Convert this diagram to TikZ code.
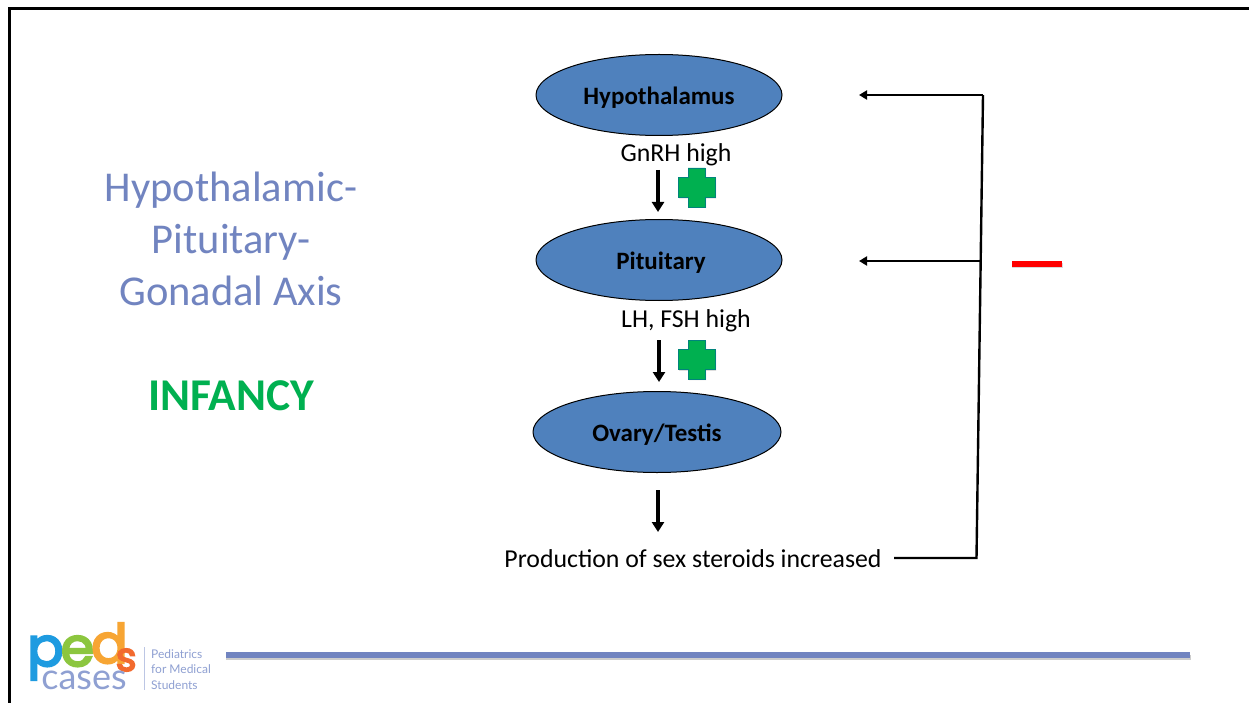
\documentclass[tikz,border=0pt]{standalone}
\usepackage{fontspec}
\setmainfont{Carlito}
\newfontfamily\logofont[FakeBold=4]{Poppins}
\newfontfamily\logolight{Lato}
\usetikzlibrary{shapes.geometric,arrows.meta}
\definecolor{ellblue}{HTML}{4F81BD}
\definecolor{titleblue}{HTML}{7184C0}
\definecolor{infgreen}{HTML}{00B050}
\definecolor{logoblue}{HTML}{1E9BE0}
\definecolor{logogreen}{HTML}{8CC63F}
\definecolor{logoorange}{HTML}{F7A533}
\definecolor{logored}{HTML}{F26A2E}
\definecolor{logotext}{HTML}{8FA0D2}
\newcommand\organtext[1]{\raisebox{-3pt}[\height][\depth]{#1}}
\tikzset{
  organ/.style={ellipse,draw=black,line width=1pt,fill=ellblue,minimum width=246pt,minimum height=81pt,inner sep=0pt,font=\fontsize{25}{25}\selectfont\bfseries,text=black},
  label/.style={font=\fontsize{25.8}{26}\selectfont,text=black,inner sep=0pt,anchor=base},
  titletext/.style={font=\fontsize{42.5}{43}\selectfont,text=titleblue,inner sep=0pt,anchor=base},
  flow/.style={line width=3.2pt,black,-{Triangle[length=10pt,width=12pt]}},
  fb/.style={line width=2.4pt,black},
  fbarrow/.style={fb,-{Triangle[length=8pt,width=9pt]}},
  logosub/.style={inner sep=0pt,anchor=base west,text=logotext,font=\logolight\fontsize{12}{12}\selectfont},
  plussign/.style={fill=infgreen,draw=infgreen!75!blue,line width=.4pt}
}
\begin{document}
\begin{tikzpicture}[x=1pt,y=-1pt]
\useasboundingbox (0,0) rectangle (1249,703);
\fill[white] (0,0) rectangle (1249,703);
% frame
\draw[line width=3pt,black] (9.5,703) -- (9.5,9) -- (1249,9);
% title
\node[titletext] (t1) at (231,202) {Hypothalamic-};
\node[titletext] (t2) at (231,254) {Pituitary-};
\node[titletext] (t3) at (231,305) {Gonadal Axis};
\node[inner sep=0pt,anchor=base,font=\fontsize{45.5}{46}\selectfont\bfseries,text=infgreen] (inf) at (231,410) {INFANCY};
% organs
\node[organ] (hyp) at (659,95) {\organtext{Hypothalamus}};
\node[organ] (pit) at (659,260) {\hspace*{4pt}\organtext{Pituitary}};
\node[organ,minimum width=248pt] (ova) at (657,432) {\organtext{Ovary/Testis}};
% labels
\node[label] (gnrh) at (676,162) {GnRH high};
\node[label] (lhfsh) at (686,327) {LH, FSH high};
\node[label] (prod) at (693,567) {Production of sex steroids increased};
% down arrows
\coordinate (a1s) at (658,170); \coordinate (a1e) at (658,212);
\coordinate (a2s) at (659,340); \coordinate (a2e) at (659,382);
\coordinate (a3s) at (658,490); \coordinate (a3e) at (658,532);
\draw[flow] (a1s) -- (a1e);
\draw[flow] (a2s) -- (a2e);
\draw[flow] (a3s) -- (a3e);
% plus signs
\foreach \cy in {187,359}{
  \fill[black!20] (689,\cy-18) -- ++(17,0) -- ++(0,9.5) -- ++(10,0) -- ++(0,20) -- ++(-10,0) -- ++(0,9.5) -- ++(-17,0) -- ++(0,-9.5) -- ++(-10,0) -- ++(0,-20) -- ++(10,0) -- cycle;
  \path[plussign] (688,\cy-19) -- ++(17,0) -- ++(0,9.5) -- ++(10,0) -- ++(0,20) -- ++(-10,0) -- ++(0,9.5) -- ++(-17,0) -- ++(0,-9.5) -- ++(-10,0) -- ++(0,-20) -- ++(10,0) -- cycle;
}
% feedback
\coordinate (fbs) at (894,558);
\coordinate (fbc) at (976.5,558);
\coordinate (fbt) at (983,95);
\coordinate (fbm) at (980,261);
\coordinate (fb1) at (859,95);
\coordinate (fb2) at (859,261);
\draw[fb] (fbs) -- (fbc) -- (fbt);
\draw[fbarrow] (fbt) -- (fb1);
\draw[fbarrow] (fbm) -- (fb2);
% red minus
\fill[black!15] (1012,263) rectangle (1063,268);
\fill[red] (1012,261) rectangle (1062,267);
% rule
\fill[black!20] (226,655) rectangle (1191,660);
\fill[titleblue] (226,652) rectangle (1190,658);
% logo
\node[inner sep=0pt,anchor=base west,font=\logofont\fontsize{54}{54}\selectfont] (peds) at (27,666)
  {\textcolor{logoblue}{p}\hspace{-3pt}\textcolor{logogreen}{e}\hspace{-3pt}\textcolor{logoorange}{\raisebox{3pt}{d}}\hspace{-12pt}\textcolor{logored}{\raisebox{-5pt}{\fontsize{40}{40}\selectfont s}}};
\node[inner sep=0pt,anchor=base,text=logotext,font=\logolight\fontsize{36}{36}\selectfont] (lc) at (84,689) {cases};
\draw[logotext!60,line width=1pt] (144,647) -- (144,690);
\node[logosub] (s1) at (151,658) {Pediatrics};
\node[logosub] (s2) at (151,673) {for Medical};
\node[logosub] (s3) at (151,689) {Students};
\end{tikzpicture}
\end{document}
